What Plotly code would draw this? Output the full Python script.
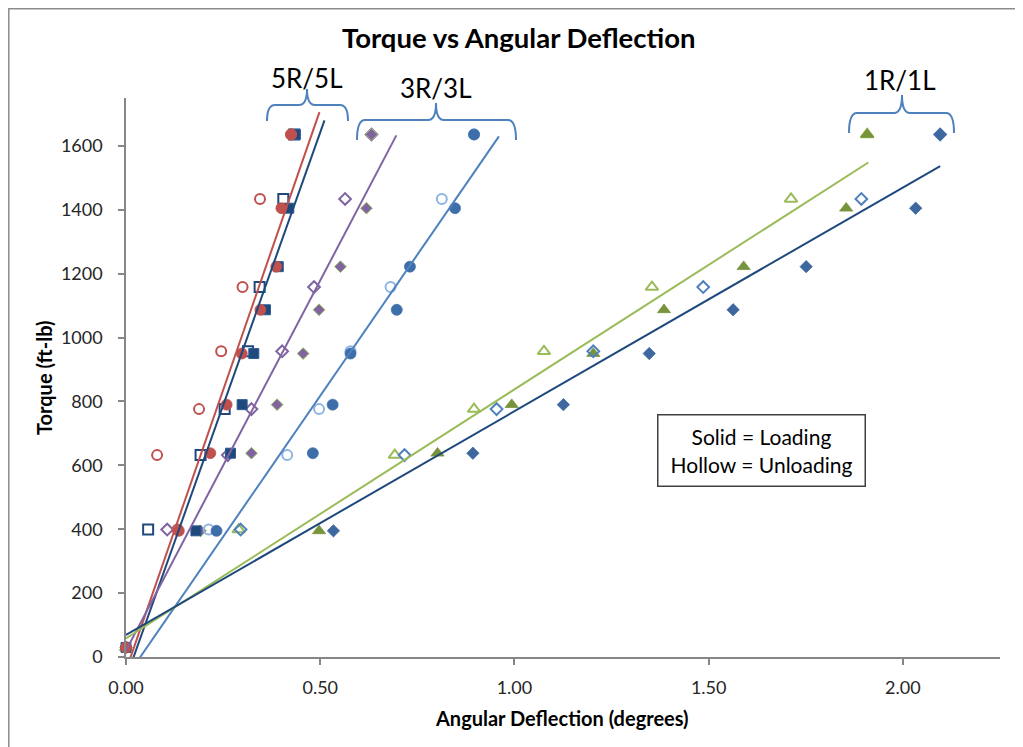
import plotly.graph_objects as go

# ---------------- data ----------------
torque_loading = [30, 395, 638, 790, 950, 1087, 1222, 1405, 1636]
torque_unloading = [1636, 1434, 1158, 957, 776, 632, 399]

defl_5R_loading = [0.000, 0.136, 0.217, 0.259, 0.298, 0.346, 0.387, 0.400, 0.425]
defl_5R_unloading = [0.425, 0.345, 0.300, 0.245, 0.188, 0.080, 0.133]
defl_5L_loading = [0.000, 0.180, 0.269, 0.299, 0.329, 0.359, 0.392, 0.419, 0.436]
defl_5L_unloading = [0.433, 0.405, 0.344, 0.314, 0.254, 0.192, 0.057]
defl_3R_loading = [0.000, 0.192, 0.323, 0.389, 0.456, 0.497, 0.552, 0.619, 0.632]
defl_3R_unloading = [0.632, 0.564, 0.484, 0.402, 0.323, 0.262, 0.106]
defl_3L_loading = [0.000, 0.233, 0.481, 0.532, 0.578, 0.697, 0.731, 0.847, 0.896]
defl_3L_unloading = [0.896, 0.813, 0.681, 0.578, 0.497, 0.415, 0.213]
defl_1R_loading = [0.000, 0.497, 0.802, 0.993, 1.203, 1.385, 1.590, 1.854, 1.908]
defl_1R_unloading = [1.908, 1.712, 1.354, 1.076, 0.896, 0.692, 0.290]
defl_1L_loading = [0.000, 0.534, 0.893, 1.126, 1.347, 1.563, 1.751, 2.033, 2.096]
defl_1L_unloading = [2.096, 1.893, 1.486, 1.203, 0.954, 0.717, 0.295]

# linear trend lines (start / end points)
trend_names = ["5R", "5L", "3R", "3L", "1R", "1L"]
trend_x_start = [0.0, 0.0, 0.0, 0.0, 0.0, 0.0]
trend_x_end = [0.498, 0.511, 0.696, 0.960, 1.911, 2.096]
trend_y_start = [-42, -67, 20, -65, 58, 69]
trend_y_end = [1706, 1680, 1633, 1630, 1548, 1537]
trend_colors = ["#C0504D", "#1F497D", "#8064A2", "#4F81BD", "#9BBB59", "#1F497D"]

x_tickvals = [0.0, 0.5, 1.0, 1.5, 2.0]
x_ticktext = ["0.00", "0.50", "1.00", "1.50", "2.00"]
y_tickvals = [0, 200, 400, 600, 800, 1000, 1200, 1400, 1600]

# ---------------- figure ----------------
OFF = 8                      # page body margin
W, H = 1023 - OFF, 747 - OFF
ML, MR, MT, MB = 118, 23, 90, 90
PW, PH = W - ML - MR, H - MT - MB
FONT = "Lato, 'Open Sans', sans-serif"


def X(px):
    """window pixel x -> paper fraction"""
    return (px - OFF - ML) / PW


def Y(py):
    """window pixel y -> paper fraction"""
    return (H - MB - (py - OFF)) / PH


fig = go.Figure()


def add_pts(x, y, symbol, size, color, line_color=None, line_width=0.75):
    fig.add_trace(go.Scatter(
        x=x, y=y, mode="markers", cliponaxis=False, showlegend=False,
        marker=dict(symbol=symbol, size=size, color=color,
                    line=dict(color=line_color or color, width=line_width)),
    ))


# draw order: bottom to top
add_pts(defl_3R_unloading, torque_unloading, "diamond-open", 9, "#8064A2", line_width=2)
add_pts(defl_3R_loading, torque_loading, "diamond", 9, "#8064A2", "#9BBB59", 1)
add_pts(defl_3L_unloading, torque_unloading, "circle-open", 10, "#8DB4E2", line_width=2)
add_pts(defl_3L_loading, torque_loading, "circle", 11, "#3E6EAA")
add_pts(defl_1R_unloading, torque_unloading, "triangle-up-open", 11, "#9BBB59", line_width=2)
add_pts(defl_1R_loading, torque_loading, "triangle-up", 11.5, "#77933C")
add_pts(defl_1L_unloading, torque_unloading, "diamond-open", 9, "#4F81BD", line_width=2)
add_pts(defl_1L_loading, torque_loading, "diamond", 9.5, "#3D679E")
add_pts(defl_5L_unloading, torque_unloading, "square-open", 10, "#1F497D", line_width=2)
add_pts(defl_5L_loading, torque_loading, "square", 10, "#1F497D", "#2E5C96", 1)
add_pts(defl_5R_unloading, torque_unloading, "circle-open", 10, "#C0504D", line_width=2)
add_pts(defl_5R_loading, torque_loading, "circle", 11, "#C0504D")

for i, name in enumerate(trend_names):
    fig.add_trace(go.Scatter(
        x=[trend_x_start[i], trend_x_end[i]], y=[trend_y_start[i], trend_y_end[i]],
        mode="lines", showlegend=False, name=name,
        line=dict(color=trend_colors[i], width=2),
    ))

# ---------------- braces ----------------
braces = [
    # left, right, mid, top, peak, bottom (window pixels)
    (267, 348, 307, 105, 89, 121),
    (357, 516, 436, 120, 103, 140),
    (849, 954, 902, 113, 95, 133),
]
shapes = []
for (l, r, m, t, p, b) in braces:
    rr = 8
    path = (f"M {X(l)},{Y(b)} Q {X(l)},{Y(t)} {X(l + rr)},{Y(t)} "
            f"L {X(m - rr)},{Y(t)} Q {X(m)},{Y(t)} {X(m)},{Y(p)} "
            f"Q {X(m)},{Y(t)} {X(m + rr)},{Y(t)} L {X(r - rr)},{Y(t)} "
            f"Q {X(r)},{Y(t)} {X(r)},{Y(b)}")
    shapes.append(dict(type="path", xref="paper", yref="paper", path=path,
                       line=dict(color="#4F81BD", width=2)))

# chart-area border
shapes.append(dict(type="rect", xref="paper", yref="paper",
                   x0=X(8.8), x1=X(1040), y0=Y(8.8), y1=Y(770),
                   line=dict(color="#8C8C8C", width=1.5)))

annotations = [
    dict(text="<b>Torque vs Angular Deflection</b>", x=X(519), y=Y(37),
         font=dict(size=27.5, color="#000000", family=FONT)),
    dict(text="5R/5L", x=X(307), y=Y(78), font=dict(size=26, color="#000000", family=FONT)),
    dict(text="3R/3L", x=X(436), y=Y(88), font=dict(size=26, color="#000000", family=FONT)),
    dict(text="1R/1L", x=X(900), y=Y(80), font=dict(size=26, color="#000000", family=FONT)),
    dict(text="<b>Angular Deflection (degrees)</b>", x=X(562), y=Y(718),
         font=dict(size=20, color="#000000", family=FONT)),
    dict(text="<b>Torque (ft-lb)</b>", x=X(44), y=Y(378), textangle=-90,
         font=dict(size=20, color="#000000", family=FONT)),
    dict(text="Solid = Loading<br>Hollow = Unloading", x=X(761.5), y=Y(450.5),
         font=dict(size=21, color="#000000", family=FONT), align="center",
         bordercolor="#404040", borderwidth=1.5, borderpad=0,
         width=206, height=70, bgcolor="#FFFFFF"),
]
for a in annotations:
    a.update(xref="paper", yref="paper", showarrow=False,
             xanchor="center", yanchor="middle")

axis_common = dict(
    showline=True, linecolor="#868686", linewidth=1.5,
    ticks="outside", ticklen=6, tickwidth=1.5, tickcolor="#868686",
    showgrid=False, zeroline=False,
    tickfont=dict(size=18, color="#262626", family=FONT),
)

fig.update_layout(
    width=W, height=H,
    margin=dict(l=ML, r=MR, t=MT, b=MB, autoexpand=False),
    paper_bgcolor="#FFFFFF", plot_bgcolor="#FFFFFF",
    xaxis=dict(range=[0, 2.25], tickvals=x_tickvals, ticktext=x_ticktext,
               ticklabelstandoff=8, **axis_common),
    yaxis=dict(range=[0, 1750], tickvals=y_tickvals,
               ticklabelstandoff=12, **axis_common),
    shapes=shapes, annotations=annotations,
    font=dict(family=FONT),
)

fig.write_html("out.html")
